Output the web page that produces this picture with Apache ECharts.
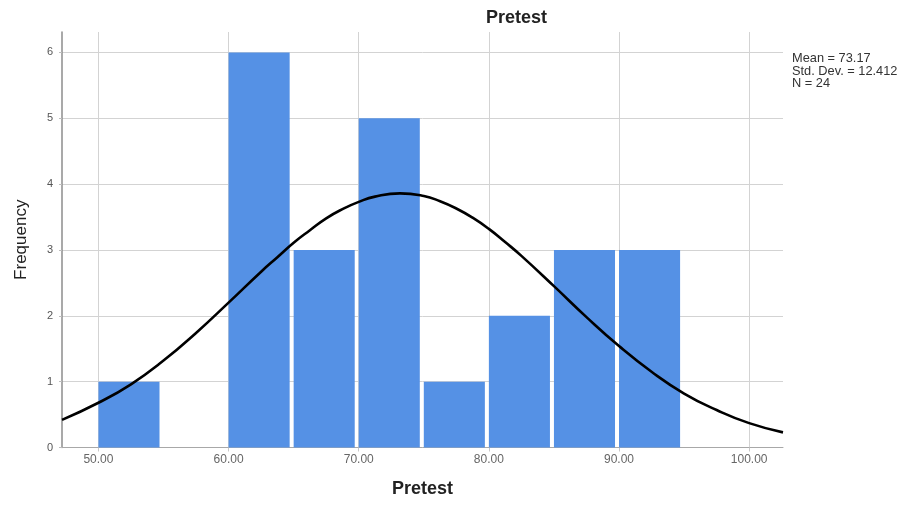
<!DOCTYPE html>
<html>
<head>
<meta charset="utf-8">
<script src="https://cdn.jsdelivr.net/npm/echarts@6/dist/echarts.min.js"></script>
<style>
html,body{margin:0;padding:0;background:#fff;}
#chart{width:908px;height:505px;}
</style>
</head>
<body>
<div id="chart"></div>
<script>
// ---- data ----
const binStarts = [50, 55, 60, 65, 70, 75, 80, 85, 90];
const binEnds   = [55, 60, 65, 70, 75, 80, 85, 90, 95];
const frequencies = [1, 0, 6, 3, 5, 1, 2, 3, 3];

const curveX = [47.2, 50, 52.5, 55, 57.5, 60, 62.5, 63.75, 65, 66.25, 67.5, 68.75, 70, 71.25, 73.17, 75, 76.25, 77.5, 78.75, 80, 81.25, 82.5, 85, 87.5, 90, 92.5, 95, 97.5, 100, 102.6];
const curveY = [0.42, 0.68, 0.96, 1.32, 1.74, 2.20, 2.67, 2.89, 3.11, 3.30, 3.48, 3.62, 3.73, 3.81, 3.86, 3.82, 3.74, 3.63, 3.49, 3.32, 3.12, 2.91, 2.45, 1.98, 1.54, 1.15, 0.82, 0.57, 0.37, 0.23];

const xTicks = [50, 60, 70, 80, 90, 100];
const yTicks = [0, 1, 2, 3, 4, 5, 6];

const titleText = 'Pretest';
const xName = 'Pretest';
const yName = 'Frequency';
const statsLines = ['Mean = 73.17', 'Std. Dev. = 12.412', 'N = 24'];

// ---- chart ----
const chart = echarts.init(document.getElementById('chart'), null, {renderer: 'canvas'});

const barData = binStarts.map((s, i) => [s, binEnds[i], frequencies[i]]);
const curveData = curveX.map((x, i) => [x, curveY[i]]);

const gridColor = '#d3d3d3';
const fontFam = '"Liberation Sans", Arial, sans-serif';

chart.setOption({
  animation: false,
  backgroundColor: '#ffffff',
  textStyle: {fontFamily: fontFam},
  grid: {left: 62, right: 125, top: 32, bottom: 57.5, containLabel: false},
  xAxis: {
    type: 'value',
    min: 47.2,
    max: 102.6,
    name: xName,
    nameLocation: 'middle',
    nameGap: 33,
    nameTextStyle: {fontSize: 18, fontWeight: 'bold', color: '#222', fontFamily: fontFam},
    axisLine: {show: true, lineStyle: {color: '#a8a8a8', width: 1}},
    axisTick: {show: true, length: 4, lineStyle: {color: '#c8c8c8'}, customValues: xTicks},
    axisLabel: {customValues: xTicks, formatter: v => v.toFixed(2), fontSize: 12, color: '#666', margin: 6, fontFamily: fontFam},
    splitLine: {show: true, lineStyle: {color: gridColor, width: 1}}
  },
  yAxis: {
    type: 'value',
    min: 0,
    max: 6.31,
    name: yName,
    nameLocation: 'middle',
    nameGap: 32,
    nameTextStyle: {fontSize: 17, color: '#222', fontFamily: fontFam},
    axisLine: {show: true, lineStyle: {color: '#8c8c8c', width: 1.5}},
    axisTick: {show: true, length: 3, lineStyle: {color: '#bdbdbd'}, customValues: yTicks},
    axisLabel: {customValues: yTicks, fontSize: 11, color: '#555', margin: 9, fontFamily: fontFam},
    splitLine: {show: true, lineStyle: {color: gridColor, width: 1}}
  },
  graphic: [
    {
      type: 'text', left: 486, top: 9,
      style: {text: titleText, font: 'bold 18px ' + fontFam, fill: '#222'}
    },
    {
      type: 'text', left: 792, top: 52,
      style: {text: statsLines.join('\n'), font: '12.8px ' + fontFam, lineHeight: 12.5, fill: '#333'}
    }
  ],
  series: [
    {
      type: 'custom',
      data: barData,
      encode: {x: [0, 1], y: 2},
      renderItem: function (params, api) {
        const x0 = api.value(0), x1 = api.value(1), f = api.value(2);
        if (!f) return null;
        const pTop = api.coord([x0, f]);
        const pBot = api.coord([x1, 0]);
        return {
          type: 'rect',
          shape: {x: pTop[0], y: pTop[1], width: pBot[0] - pTop[0] - 4, height: pBot[1] - pTop[1]},
          style: {fill: '#5591e5'}
        };
      },
      z: 2
    },
    {
      type: 'line',
      data: curveData,
      smooth: 0.5,
      symbol: 'none',
      lineStyle: {color: '#000', width: 2.6},
      z: 3
    }
  ]
});
</script>
</body>
</html>
